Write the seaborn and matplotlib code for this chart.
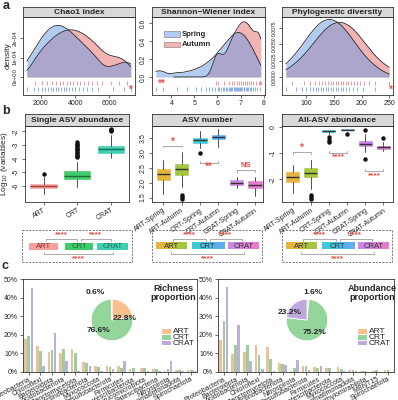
import numpy as np
import pandas as pd
import matplotlib
matplotlib.use('Agg')
import matplotlib.pyplot as plt
import matplotlib.patches as mpatches
from matplotlib.colors import to_rgb
import seaborn as sns

W, H = 398, 400

# ---------------- panel a : alpha diversity samples ----------------
chao1_spring = [1180, 1598, 1848, 2065, 2246, 2410, 2575, 2723, 2872, 3022, 3171, 3321, 3476,
                3645, 3813, 4006, 4208, 4437, 4688, 4990, 5343, 6202, 6862, 7250]
chao1_autumn = [1661, 2055, 2359, 2635, 2865, 3090, 3295, 3499, 3696, 3892, 4093, 4298, 4511,
                4744, 4988, 5265, 5576, 6088, 6530, 7026]
shannon_spring = [3.33, 3.63, 4.23, 4.70, 5.05, 5.28, 5.51, 5.63, 5.76, 5.89, 6.01, 6.08, 6.15,
                  6.22, 6.29, 6.36, 6.43, 6.50, 6.55, 6.60, 6.65, 6.70, 6.74, 6.79, 6.84, 6.89,
                  6.94, 6.98, 7.03, 7.08, 7.13, 7.17, 7.22, 7.28, 7.34, 7.40, 7.46, 7.53, 7.63,
                  7.73, 7.83]
shannon_autumn = [5.92, 6.03, 6.28, 6.51, 6.62, 6.73, 6.84, 6.94, 7.02, 7.10, 7.18, 7.27, 7.35,
                  7.44, 7.53, 7.67, 7.81, 7.86, 7.88]
pd_spring = [63, 81, 92, 100, 107, 112, 118, 122, 127, 131, 136, 140, 144, 148, 153, 157, 162,
             166, 172, 178, 184, 192, 203, 224]
pd_autumn = [74, 96, 107, 116, 123, 129, 134, 140, 144, 149, 153, 158, 162, 167, 171, 176, 181,
             186, 191, 197, 204, 213, 224, 250]

# ---------------- panel b : box summaries ----------------
single_groups = ['ART', 'CRT', 'CRAT']
single_med = [-5.98, -5.27, -3.27]
single_q1 = [-6.15, -5.50, -3.62]
single_q3 = [-5.84, -4.90, -3.06]
single_lo = [-6.62, -6.05, -3.95]
single_hi = [-5.35, -4.25, -2.30]
single_fliers = [[-5.10],
                 [-2.80, -2.90, -3.00, -3.10, -3.20, -3.30, -3.40, -3.50, -3.60, -3.70, -3.80, -3.90],
                 [-1.85, -1.92, -2.00]]

season_groups = ['ART-Spring', 'ART-Autumn', 'CRT-Spring', 'CRT-Autumn', 'CRAT-Spring', 'CRAT-Autumn']
num_med = [2.30, 2.47, 3.44, 3.52, 2.00, 1.93]
num_q1 = [2.08, 2.27, 3.34, 3.45, 1.93, 1.83]
num_q3 = [2.45, 2.63, 3.51, 3.61, 2.08, 2.04]
num_lo = [1.63, 1.85, 3.16, 3.19, 1.82, 1.55]
num_hi = [2.75, 3.03, 3.72, 3.79, 2.19, 2.19]
num_fliers = [[], [1.44, 1.52, 1.60], [3.00], [], [], []]

all_med = [-1.89, -1.76, -0.15, -0.095, -0.64, -0.78]
all_q1 = [-2.08, -1.91, -0.18, -0.105, -0.73, -0.83]
all_q3 = [-1.72, -1.55, -0.13, -0.085, -0.54, -0.73]
all_lo = [-2.51, -2.36, -0.25, -0.11, -0.96, -0.93]
all_hi = [-1.46, -1.27, -0.12, -0.08, -0.28, -0.57]
all_fliers = [[], [-2.59, -2.68, -2.76], [-0.38, -0.48, -0.57], [-0.25], [-0.13, -1.21], [-0.42]]

# ---------------- panel c : phylum proportions (%) ----------------
rich_phyla = ['Proteobacteria', 'Chloroflexi', 'Bacteroidota', 'Acidobacteriota', 'Planctomycetota',
              'Actinobacteriota', 'Myxococcota', 'Desulfobacterota', 'Firmicutes', 'Latescibacterota',
              'Verrucomicrobiota', 'Patescibacteria', 'Nitrospirota', 'Gemmatimonadota', 'Spirochaetota']
rich_art = [17.5, 14.0, 10.5, 10.0, 12.5, 5.5, 3.0, 3.0, 3.0, 1.5, 2.0, 1.5, 0.5, 1.3, 1.0]
rich_crt = [19.5, 11.5, 12.0, 12.5, 10.0, 5.0, 2.5, 2.5, 2.0, 2.0, 2.0, 1.5, 1.5, 1.0, 1.0]
rich_crat = [45.0, 3.0, 21.0, 6.0, 0.5, 3.0, 0.5, 1.5, 6.0, 0.2, 0.3, 0.3, 6.0, 0.5, 0.3]

abund_phyla = ['Proteobacteria', 'Bacteroidota', 'Acidobacteriota', 'Chloroflexi', 'Planctomycetota',
               'Actinobacteriota', 'Nitrospirota', 'Desulfobacterota', 'Firmicutes', 'Latescibacterota',
               'Myxococcota', 'Gemmatimonadota', 'Methylomirabilota', 'MBNT15', 'Spirochaetota']
abund_art = [17.0, 9.5, 11.0, 14.5, 13.5, 5.0, 0.5, 3.0, 2.5, 2.0, 2.5, 1.0, 0.8, 0.5, 1.0]
abund_crt = [27.5, 14.5, 14.5, 9.0, 7.0, 4.5, 2.0, 3.0, 2.0, 2.0, 1.5, 1.0, 0.8, 1.0, 1.0]
abund_crat = [45.5, 25.5, 6.0, 1.5, 0.3, 4.0, 6.5, 1.0, 3.0, 0.2, 0.3, 0.3, 0.2, 0.2, 0.2]

pie_groups = ['ART', 'CRT', 'CRAT']
rich_pie = [22.8, 76.6, 0.6]
abund_pie = [1.6, 75.2, 23.2]

# ---------------- style ----------------
sns.set_theme(style='white')
plt.rcParams['font.family'] = ['Liberation Sans', 'DejaVu Sans']
plt.rcParams['axes.linewidth'] = 0.6

BLUE_FILL = '#6999E5'
RED_FILL = '#E96B6B'
BLUE_RUG = '#5B8EE0'
RED_RUG = '#E87070'
STAR_RED = '#EE4B4B'
GROUP_COLS = {'ART': '#F9C08C', 'CRT': '#93D59A', 'CRAT': '#BDA9DB'}
SINGLE_COLS = ['#F4A0A0', '#3FCB6A', '#3FD0B2']
SINGLE_MED = ['#A83A3A', '#1E6B36', '#16705F']
SEASON_COLS = ['#E6B43E', '#A4C63F', '#3FC9DA', '#5CAEEF', '#CE87E7', '#E57CCC']


def px(x0, y0, x1, y1):
    return [x0 / W, 1 - y1 / H, (x1 - x0) / W, (y1 - y0) / H]


def strip(x0, y0, x1, y1, title):
    s = fig.add_axes(px(x0, y0, x1, y1))
    s.set_facecolor('#D9D9D9')
    s.set_xticks([])
    s.set_yticks([])
    for sp in s.spines.values():
        sp.set_linewidth(0.6)
        sp.set_color('#333333')
    s.text(0.5, 0.45, title, ha='center', va='center', fontsize=6, fontweight='bold')
    return s


def frame(ax):
    for sp in ax.spines.values():
        sp.set_visible(True)
        sp.set_linewidth(0.6)
        sp.set_color('#333333')
    ax.tick_params(axis='both', which='both', length=2, width=0.5, pad=1.5,
                   labelsize=5, bottom=True, left=True, color='#333333')


fig = plt.figure(figsize=(W / 100, H / 100), dpi=100)
fig.patch.set_facecolor('white')

# ================= panel a =================
a_specs = [
    (22.7, 135, 'Chao1 index', chao1_spring, chao1_autumn, (-0.93e-4, 3.11e-4),
     [0, 1e-4, 2e-4], ['0e+00', '1e-04', '2e-04'], [2000, 4000, 6000], 0.5, 0.55, 4.3),
    (151.7, 265, 'Shannon\u2212Wiener index', shannon_spring, shannon_autumn, (-0.2, 0.667),
     [0, 0.2, 0.4, 0.6], ['0.0', '0.2', '0.4', '0.6'], [4, 5, 6, 7, 8], 0.45, 0.55, 4.8),
    (281.7, 393.3, 'Phylogenetic diversity', pd_spring, pd_autumn, (-0.00276, 0.0092),
     [0, 0.0025, 0.005, 0.0075], ['0.0000', '0.0025', '0.0050', '0.0075'], [100, 150, 200, 250],
     1.0, 1.0, 3.6),
]
for i, (x0, x1, title, spring, autumn, ylim, yt, ytl, xt, bws, bwa, yfs) in enumerate(a_specs):
    ax = fig.add_axes(px(x0, 17, x1, 95))
    strip(x0, 7, x1, 17, title)
    lo = min(min(spring), min(autumn))
    hi = max(max(spring), max(autumn))
    for vals, col, bw in [(autumn, RED_FILL, bwa), (spring, BLUE_FILL, bws)]:
        sns.kdeplot(x=vals, ax=ax, fill=True, color=col, alpha=0.5, linewidth=0,
                    clip=(lo, hi), cut=10, bw_adjust=bw)
        sns.kdeplot(x=vals, ax=ax, fill=False, color='#2A2A2A', linewidth=0.6,
                    clip=(lo, hi), cut=10, bw_adjust=bw)
    tr = ax.get_xaxis_transform()
    ax.vlines(autumn, 0.125, 0.185, transform=tr, color=RED_RUG, linewidth=0.5)
    ax.vlines(spring, 0.045, 0.105, transform=tr, color=BLUE_RUG, linewidth=0.5)
    pad = (hi - lo) * 0.04
    ax.set_xlim(lo - pad, hi + pad)
    ax.set_ylim(*ylim)
    ax.set_yticks(yt)
    ax.set_yticklabels(ytl, rotation=90, va='center')
    ax.set_xticks(xt)
    ax.set_xlabel('')
    ax.set_ylabel('density' if i == 0 else '', fontsize=6, labelpad=1)
    frame(ax)
    ax.tick_params(axis='y', labelsize=yfs)

# ================= panel b =================
def box_stats(med, q1, q3, lo, hi, fl, labels):
    return [dict(med=m, q1=a, q3=b, whislo=l, whishi=h, fliers=f, label=lab)
            for m, a, b, l, h, f, lab in zip(med, q1, q3, lo, hi, fl, labels)]


b_specs = [
    (25, 129.3, 'Single ASV abundance',
     box_stats(single_med, single_q1, single_q3, single_lo, single_hi, single_fliers, single_groups),
     SINGLE_COLS, SINGLE_MED, (0.45, 3.55), (-7.17, -1.61), [-6, -5, -4, -3, -2],
     ['-6', '-5', '-4', '-3', '-2'], 0.78),
    (151.7, 263.3, 'ASV number',
     box_stats(num_med, num_q1, num_q3, num_lo, num_hi, num_fliers, season_groups),
     SEASON_COLS, ['#333333'] * 6, (0.37, 6.45), (1.35, 3.9), [1.5, 2.0, 2.5, 3.0, 3.5],
     ['1.5', '2.0', '2.5', '3.0', '3.5'], 0.72),
    (281.7, 392.7, 'All-ASV abundance',
     box_stats(all_med, all_q1, all_q3, all_lo, all_hi, all_fliers, season_groups),
     SEASON_COLS, ['#333333'] * 6, (0.39, 6.52), (-2.86, 0.04), [-2, -1, 0],
     ['-2', '-1', '0'], 0.72),
]
b_axes = []
for i, (x0, x1, title, stats, cols, medc, xlim, ylim, yt, ytl, bw) in enumerate(b_specs):
    ax = fig.add_axes(px(x0, 126, x1, 202))
    strip(x0, 114, x1, 126, title)
    pos = np.arange(1, len(stats) + 1)
    bp = ax.bxp(stats, positions=pos, widths=bw, patch_artist=True, showcaps=False,
                boxprops=dict(linewidth=0.4),
                whiskerprops=dict(color='#333333', linewidth=0.6),
                flierprops=dict(marker='o', markersize=2.2, markerfacecolor='#111111',
                                markeredgecolor='#111111'),
                medianprops=dict(linewidth=1.0))
    for patch, c in zip(bp['boxes'], cols):
        patch.set_facecolor(c)
        patch.set_edgecolor(c)
    for med, c in zip(bp['medians'], medc):
        med.set_color(c)
    ax.set_xlim(*xlim)
    ax.set_ylim(*ylim)
    ax.set_yticks(yt)
    ax.set_yticklabels(ytl, rotation=90, va='center')
    ax.set_xticks(pos)
    if i == 0:
        ax.set_xticklabels([s['label'] for s in stats], rotation=30, ha='right',
                           rotation_mode='anchor', fontsize=6)
        ax.set_ylabel('Log$_{10}$ (variables)', fontsize=6, labelpad=2)
    else:
        ax.set_xticklabels([s['label'] for s in stats], rotation=35, ha='right',
                           rotation_mode='anchor', fontsize=4.3)
    frame(ax)
    b_axes.append(ax)


def bracket(ax, xa, xb, y, tick, text, ty, size=7):
    ax.plot([xa, xa, xb, xb], [y - tick, y, y, y - tick], color='#9A9A9A', linewidth=0.6)
    ax.text((xa + xb) / 2, ty, text, ha='center', va='center', color=STAR_RED,
            fontsize=size, fontweight='bold')


bracket(b_axes[1], 1, 2, 3.23, 0.05, '*', 3.37)
bracket(b_axes[1], 3, 4, 2.67, -0.05, '**', 2.52)
bracket(b_axes[1], 5, 6, 2.42, 0.05, 'NS', 2.57, size=5.5)
bracket(b_axes[2], 1, 2, -0.955, 0.08, '*', -0.81)
bracket(b_axes[2], 3, 4, -0.99, -0.08, '****', -1.15, size=6)
bracket(b_axes[2], 5, 6, -1.69, -0.08, '****', -1.86, size=6)

# ================= panel c =================
def phylum_bars(ax, phyla, art, crt, crat):
    df = pd.DataFrame({'Phylum': phyla * 3,
                       'Group': ['ART'] * len(phyla) + ['CRT'] * len(phyla) + ['CRAT'] * len(phyla),
                       'Value': art + crt + crat})
    sns.barplot(data=df, x='Phylum', y='Value', hue='Group', order=phyla,
                hue_order=pie_groups, palette=GROUP_COLS, width=0.8, gap=0.15,
                legend=False, ax=ax, linewidth=0)
    ax.set_xlim(-0.5, len(phyla) - 0.5)
    ax.set_ylim(0, 50)
    ax.set_yticks([0, 10, 20, 30, 40, 50])
    ax.set_yticklabels([f'{v}%' for v in [0, 10, 20, 30, 40, 50]])
    ax.set_xlabel('')
    ax.set_ylabel('')
    ax.set_xticks(range(len(phyla)))
    ax.set_xticklabels(phyla, rotation=28, ha='right', rotation_mode='anchor', fontsize=2.9)
    frame(ax)
    ax.tick_params(axis='x', pad=0.8)


cl = fig.add_axes(px(23, 279, 197, 372))
phylum_bars(cl, rich_phyla, rich_art, rich_crt, rich_crat)
cr = fig.add_axes(px(218, 279, 394, 372))
phylum_bars(cr, abund_phyla, abund_art, abund_crt, abund_crat)

for (cx, cy), vals in [((112, 320), rich_pie), ((307, 320), abund_pie)]:
    pa = fig.add_axes(px(cx - 26, cy - 26, cx + 26, cy + 26))
    pa.pie(vals, colors=[GROUP_COLS[g] for g in pie_groups], startangle=90, counterclock=False,
           wedgeprops=dict(edgecolor='white', linewidth=0.6))
    pa.set_aspect('equal')

# ================= overlay annotations =================
ov = fig.add_axes([0, 0, 1, 1])
ov.axis('off')
ov.patch.set_alpha(0)

ov.text(3, 6, 'a', fontsize=9, fontweight='bold', va='center')
ov.text(2, 111, 'b', fontsize=9, fontweight='bold', va='center')
ov.text(2, 266, 'c', fontsize=9, fontweight='bold', va='center')

# rug significance marks
ov.text(131, 90, '*', color=STAR_RED, fontsize=7, ha='center', va='center', fontweight='bold')
ov.text(161.5, 84, '**', color=STAR_RED, fontsize=7, ha='center', va='center', fontweight='bold')
ov.text(390.5, 90, '*', color=STAR_RED, fontsize=7, ha='center', va='center', fontweight='bold')

# Shannon legend
for yy, c, lab in [(34, BLUE_FILL, 'Spring'), (44.5, RED_FILL, 'Autumn')]:
    ov.add_patch(mpatches.Rectangle((163.5, yy - 2.8), 16, 5.6, facecolor=c, alpha=0.5,
                                    edgecolor='#333333', linewidth=0.5))
    ov.text(182, yy, lab, fontsize=5.5, fontweight='bold', va='center')


# dashed comparison boxes
def rect_fill(x0, x1, c1, c2):
    y0, y1 = 243, 249.5
    if c1 == c2:
        ov.add_patch(mpatches.Rectangle((x0, y0), x1 - x0, y1 - y0, facecolor=c1, edgecolor='none'))
    else:
        grad = np.array([[to_rgb(c1), to_rgb(c2)]])
        ov.imshow(grad, extent=(x0, x1, y1, y0), aspect='auto', interpolation='bilinear', zorder=2)


box_defs = [
    (21.7, [(7.6, 36.6), (43.3, 71.6), (75.6, 106.3)],
     [(SINGLE_COLS[0], SINGLE_COLS[0]), (SINGLE_COLS[1], SINGLE_COLS[1]), (SINGLE_COLS[2], SINGLE_COLS[2])],
     ['#8E2F2F', '#1D6A35', '#1A6E60']),
    (151.7, [(4.3, 35.0), (40.0, 72.3), (76.6, 107.6)],
     [(SEASON_COLS[0], SEASON_COLS[1]), (SEASON_COLS[2], SEASON_COLS[3]), (SEASON_COLS[4], SEASON_COLS[5])],
     ['#333333'] * 3),
    (281.7, [(4.3, 35.0), (40.0, 72.3), (76.6, 107.6)],
     [(SEASON_COLS[0], SEASON_COLS[1]), (SEASON_COLS[2], SEASON_COLS[3]), (SEASON_COLS[4], SEASON_COLS[5])],
     ['#333333'] * 3),
]
for bx, rects, cols, tcols in box_defs:
    ov.add_patch(mpatches.Rectangle((bx, 230), 110, 32, facecolor='none', edgecolor='#666666',
                                    linewidth=0.6, linestyle=(0, (2.5, 1.5))))
    centers = []
    for (r0, r1), (c1, c2), tc, lab in zip(rects, cols, tcols, single_groups):
        rect_fill(bx + r0, bx + r1, c1, c2)
        cx = bx + (r0 + r1) / 2
        centers.append(cx)
        ov.text(cx, 246.5, lab, fontsize=5.5, ha='center', va='center', color=tc, zorder=3)
    for a, b in [(0, 1), (1, 2)]:
        xa, xb = centers[a] + 2, centers[b] - 2
        ov.plot([xa, xa, xb, xb], [240.5, 238.5, 238.5, 240.5], color='#8A8A8A', linewidth=0.5)
        ov.text((xa + xb) / 2, 234.5, '****', fontsize=6, color=STAR_RED, ha='center',
                va='center', fontweight='bold')
    xa, xb = centers[0], centers[2]
    ov.plot([xa, xa, xb, xb], [252, 254, 254, 252], color='#8A8A8A', linewidth=0.5)
    ov.text((xa + xb) / 2, 258.5, '****', fontsize=6, color=STAR_RED, ha='center',
            va='center', fontweight='bold')

# pie labels and titles
for x, y, t in [(95, 292, '0.6%'), (125, 319, '22.8%'), (98, 331, '76.6%'),
                (313, 292, '1.6%'), (290, 312, '23.2%'), (315, 332, '75.2%')]:
    ov.text(x, y, t, fontsize=6, fontweight='bold', ha='center', va='center')
ov.text(173, 293, 'Richness\nproportion', fontsize=6.5, fontweight='bold', ha='center',
        va='center', linespacing=1.1)
ov.text(372, 293, 'Abundance\nproportion', fontsize=6.5, fontweight='bold', ha='center',
        va='center', linespacing=1.1)
for lx in [161.5, 357.5]:
    for yy, g in zip([331.7, 337.4, 343.1], pie_groups):
        ov.add_patch(mpatches.Rectangle((lx, yy - 2.3), 9, 4.6, facecolor=GROUP_COLS[g],
                                        edgecolor='none'))
        ov.text(lx + 11.5, yy, g, fontsize=6, va='center')
ov.set_xlim(0, W)
ov.set_ylim(H, 0)

fig.savefig('out.png', dpi=100)
